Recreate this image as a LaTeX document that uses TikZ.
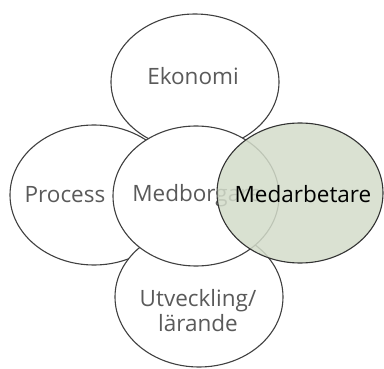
\documentclass[tikz,border=0pt]{standalone}
\usepackage{fontspec}
\setmainfont{Open Sans}
\usepackage{xcolor}
\usetikzlibrary{shapes.geometric}
\definecolor{txtgray}{HTML}{5A5A5A}
\definecolor{linegray}{HTML}{404040}
\definecolor{leaf}{HTML}{D3DCCA}
\begin{document}
\begin{tikzpicture}[x=1pt,y=-1pt,
	bubble/.style={ellipse,draw=linegray,line width=1.1pt,fill=white,minimum width=168pt,minimum height=140pt,inner sep=0pt},
	word/.style={text=txtgray,font=\fontsize{22.5}{25}\selectfont,align=center}]
	\useasboundingbox (0,0) rectangle (384,369);

	\node[bubble,minimum height=136pt] (eko) at (195,82) {};
	\node[bubble] (pro) at (94,195) {};
	\node[bubble] (utv) at (199,297) {};
	\node[bubble,minimum width=166pt] (med) at (196,196) {};

	\node[word] (teko) at (193,76) {Ekonomi};
	\node[word] (tpro) at (65,195) {Process};
	\node[word] (tmed) at (197,196) {Medborgare};
	\node[word] (tutv) at (198,311) {Utveckling/\\lärande};

	\node[bubble,minimum width=166pt,draw=black!80,fill=leaf,fill opacity=0.85] (arb) at (300,193) {};
	\node[word,text=black] (tarb) at (303,194) {Medarbetare};
\end{tikzpicture}
\end{document}
